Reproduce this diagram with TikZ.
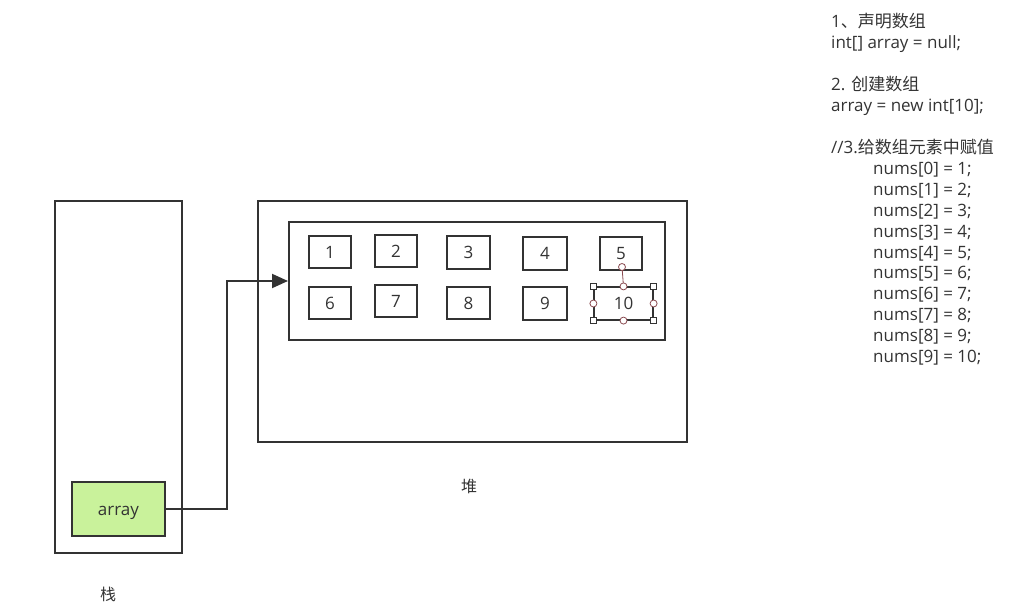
\documentclass[tikz,border=0pt]{standalone}
\usepackage{fontspec}
\setmainfont{Open Sans}
\newfontfamily\cjk{Noto Sans CJK SC}
\usetikzlibrary{arrows.meta}
\definecolor{ink}{HTML}{333333}
\definecolor{arrfill}{HTML}{C9F29B}
\definecolor{hdl}{HTML}{8A4A50}
\tikzset{
  frame/.style={draw=ink, line width=2pt},
  cell/.style={draw=ink, line width=2pt, minimum width=42pt, minimum height=32pt, inner sep=0pt, font=\fontsize{17}{19}\selectfont, text=ink},
  txt/.style={anchor=base west, inner sep=0pt, font=\fontsize{17}{20}\selectfont, text=ink},
  sq/.style={draw=ink, fill=white, line width=0.8pt, minimum size=6pt, inner sep=0pt},
  rd/.style={circle, draw=hdl, fill=white, line width=0.8pt, minimum size=7pt, inner sep=0pt},
}
\begin{document}
\begin{tikzpicture}[x=1pt,y=-1pt]
\useasboundingbox (0,0) rectangle (1034,604);
% stack
\node[frame, minimum width=127pt, minimum height=352pt, inner sep=0pt] (stack) at (118.5,377) {};
\node[frame, fill=arrfill, minimum width=93pt, minimum height=54pt, inner sep=0pt, text height=13pt, text depth=0pt, font=\fontsize{17}{19}\selectfont, text=ink] (arr) at (118.5,509) {array};
\node[inner sep=0pt, font=\cjk\fontsize{16}{18}\selectfont, text=ink] (stlab) at (108,594) {栈};
% heap
\node[frame, minimum width=429pt, minimum height=241pt, inner sep=0pt] (heap) at (472.5,321.5) {};
\node[frame, minimum width=376pt, minimum height=118pt, inner sep=0pt] (inner) at (477,281) {};
\node[inner sep=0pt, font=\cjk\fontsize{16}{18}\selectfont, text=ink] (hplab) at (469,486) {堆};
% cells
\node[cell] (c1) at (330,252) {1};
\node[cell] (c2) at (396,251) {2};
\node[cell, minimum width=43pt, minimum height=33pt] (c3) at (468.5,252.5) {3};
\node[cell, minimum width=44pt, minimum height=33pt] (c4) at (545,253.5) {4};
\node[cell, minimum height=33pt] (c5) at (621,253.5) {5};
\node[cell] (c6) at (330,303) {6};
\node[cell] (c7) at (396,301) {7};
\node[cell, minimum width=43pt] (c8) at (468.5,303) {8};
\node[cell, minimum width=44pt, minimum height=33pt] (c9) at (545,303.5) {9};
\node[cell, line width=1.2pt, minimum width=59pt, minimum height=33pt] (c10) at (623.5,303.5) {10};
% selection handles on cell 10
\coordinate (rot) at (622,267);
\draw[hdl, line width=0.8pt] (c10.north) -- (rot);
\node[rd] (h0) at (rot) {};
\node[sq] (h1) at (c10.north west) {};
\node[sq] (h2) at (c10.north east) {};
\node[sq] (h3) at (c10.south west) {};
\node[sq] (h4) at (c10.south east) {};
\node[rd] (h5) at (c10.north) {};
\node[rd] (h6) at (c10.south) {};
\node[rd] (h7) at (c10.west) {};
\node[rd] (h8) at (c10.east) {};
% connector
\coordinate (bend1) at (227,509);
\draw[ink, line width=2pt, -{Triangle[length=16pt,width=14pt]}] (arr.east) -- (bend1) |- (inner.west |- 0,281);
% code text
\node[txt] (t1) at (831,28) {1{\cjk 、声明数组}};
\node[txt] (t2) at (831,49) {int[] array = null;};
\node[txt] (t3) at (831,91) {2. {\cjk 创建数组}};
\node[txt] (t4) at (831,112) {array = new int[10];};
\node[txt] (t5) at (831,154) {//3.{\cjk 给数组元素中赋值}};
\foreach \i/\v in {0/1,1/2,2/3,3/4,4/5,5/6,6/7,7/8,8/9,9/10} {
  \node[txt] (n\i) at (873,{174.5+20.9*\i}) {nums[\i] = \v;};
}
\end{tikzpicture}
\end{document}
